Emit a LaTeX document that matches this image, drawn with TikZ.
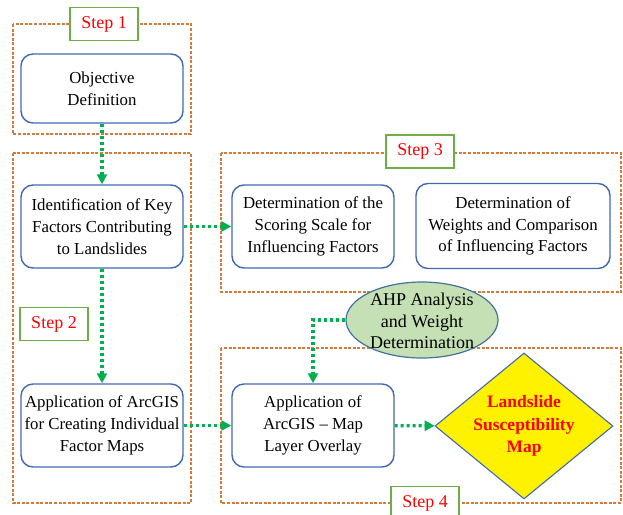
\documentclass[tikz,border=0pt]{standalone}
\usepackage{fontspec}
\setmainfont{Liberation Serif}
\usetikzlibrary{arrows.meta,shapes.geometric}
\definecolor{frameorange}{RGB}{214,122,58}
\definecolor{labelgreen}{RGB}{112,173,71}
\definecolor{boxblue}{RGB}{68,104,176}
\definecolor{flowgreen}{RGB}{0,176,80}
\definecolor{ahpgreen}{RGB}{197,224,180}
\definecolor{ahpblue}{RGB}{65,113,156}

\begin{document}
\begin{tikzpicture}[x=1pt,y=-1pt,
 stepframe/.style={frameorange,line width=1.2pt,dash pattern=on 3pt off 1.6pt},
 steplabel/.style={draw=labelgreen,line width=1.2pt,fill=white,text=red,
  font=\fontsize{18}{22}\selectfont,minimum width=68,minimum height=33,inner sep=0pt},
 procbox/.style={draw=boxblue,line width=1.4pt,rounded corners=12pt,align=center,
  font=\fontsize{16.8}{21.7}\selectfont,minimum width=162,minimum height=83,inner sep=0pt},
 flow/.style={flowgreen,line width=3.2pt,dash pattern=on 3pt off 3pt,
  -{Triangle[length=10pt,width=10pt]}}]
 \useasboundingbox(0,0)rectangle(623,514);
 \clip(0,0)rectangle(623,514);
 % dashed frames of the four steps
 \draw[stepframe](13,24)rectangle(191,134);
 \draw[stepframe](13,153)rectangle(191,503);
 \draw[stepframe](221,153)rectangle(621,292);
 \draw[stepframe](221,348)rectangle(621,503);
 % process boxes
 \node[procbox,minimum height=69](obj)at(102,88.5){Objective\\Definition};
 \node[procbox](ident)at(102,226.5){Identification of Key\\Factors Contributing\\to Landslides};
 \node[procbox](score)at(313,226.5){Determination of the\\Scoring Scale for\\Influencing Factors};
 \node[procbox,minimum width=194,minimum height=85](weight)at(513,226){Determination of\\Weights and Comparison\\of Influencing Factors};
 \node[procbox](arcind)at(102,425.5){Application of ArcGIS\\for Creating Individual\\Factor Maps};
 \node[procbox](arcmap)at(313,425.5){Application of\\ArcGIS -- Map\\Layer Overlay};
 \node[draw=ahpblue,line width=1.2pt,fill=ahpgreen,ellipse,minimum width=152,minimum height=76,inner sep=0pt](ahp)at(422,320){};
 \node[align=center,font=\fontsize{18}{21.7}\selectfont](ahptext)at(422,321){AHP Analysis\\and Weight\\Determination};
 \node[diamond,draw=boxblue,line width=1.1pt,fill=yellow,aspect=1.22,inner sep=-6pt,
  minimum width=178,minimum height=146,align=center,text=red,
  font=\bfseries\fontsize{17.5}{22.5}\selectfont](lsm)at(524,426){Landslide\\Susceptibility\\Map};
 % step labels
 \node[steplabel](s1)at(104,24){Step 1};
 \node[steplabel](s2)at(54,324){Step 2};
 \node[steplabel](s3)at(420,151.5){Step 3};
 \node[steplabel](s4)at(425,503){Step 4};
 % connectors
 \draw[flow](obj)--(ident);
 \draw[flow](ident)--(score);
 \draw[flow](ident)--(arcind);
 \draw[flow](arcind)--(arcmap);
 \draw[flow](arcmap)--(lsm);
 \draw[flow](ahp.west)-|(arcmap.north);
\end{tikzpicture}
\end{document}
